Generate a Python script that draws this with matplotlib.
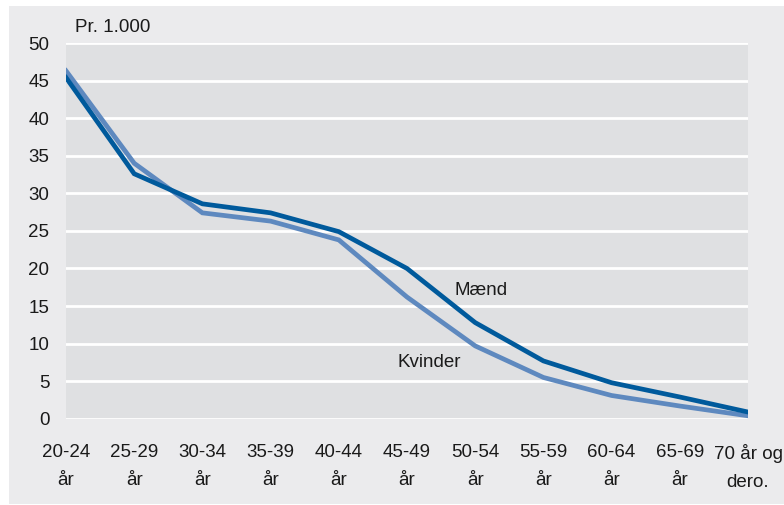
import numpy as np
import matplotlib.pyplot as plt
from matplotlib.patches import Rectangle

plt.rcParams['font.family'] = ['Liberation Sans Narrow', 'Liberation Sans', 'DejaVu Sans']

aldersgrupper = ['20-24\når', '25-29\når', '30-34\når', '35-39\når', '40-44\når',
                 '45-49\når', '50-54\når', '55-59\når', '60-64\når', '65-69\når',
                 '70 år og\ndero.']
maend = [45.4, 32.6, 28.6, 27.4, 24.9, 20.0, 12.8, 7.7, 4.8, 2.9, 0.9]
kvinder = [46.3, 34.0, 27.4, 26.3, 23.8, 16.2, 9.7, 5.5, 3.1, 1.7, 0.4]
yticks = [0, 5, 10, 15, 20, 25, 30, 35, 40, 45, 50]

fig = plt.figure(figsize=(7.84, 5.05), dpi=100)
fig.patch.set_facecolor('white')
fig.patches.append(Rectangle((9 / 784, 1 - 504 / 505), 1, 498 / 505,
                             transform=fig.transFigure, facecolor='#ebebed',
                             edgecolor='none', zorder=-10))

ax = fig.add_axes([66 / 784, 1 - 418.8 / 505, (748 - 66) / 784, (418.8 - 43) / 505])
ax.set_facecolor('#dfe0e2')

x = np.arange(len(aldersgrupper))
ax.plot(x, kvinder, color='#5e89bf', lw=3.4, solid_joinstyle='miter', zorder=3)
ax.plot(x, maend, color='#005a9c', lw=3.4, solid_joinstyle='miter', zorder=4)

fs = 13.5
ax.set_xlim(0, len(aldersgrupper) - 1)
ax.set_ylim(0, 50)
ax.set_yticks(yticks)
ax.set_xticks(x)
ax.set_xticklabels(aldersgrupper, fontsize=fs, color='#1a1a1a', linespacing=1.85)
ax.tick_params(axis='y', labelsize=fs, labelcolor='#1a1a1a', length=0, pad=12)
ax.tick_params(axis='x', length=0, pad=18)
ax.yaxis.grid(True, color='white', lw=2)
ax.set_axisbelow(True)
for s in ax.spines.values():
    s.set_visible(False)

fig.text(75 / 784, 1 - 27 / 505, 'Pr. 1.000', fontsize=fs, color='#1a1a1a',
         va='center', ha='left')
ax.text(6.08, 17.1, 'Mænd', fontsize=fs, color='#1a1a1a', ha='center', va='center')
ax.text(5.32, 7.5, 'Kvinder', fontsize=fs, color='#1a1a1a', ha='center', va='center')

fig.savefig('out.png', dpi=100, facecolor=fig.get_facecolor())
